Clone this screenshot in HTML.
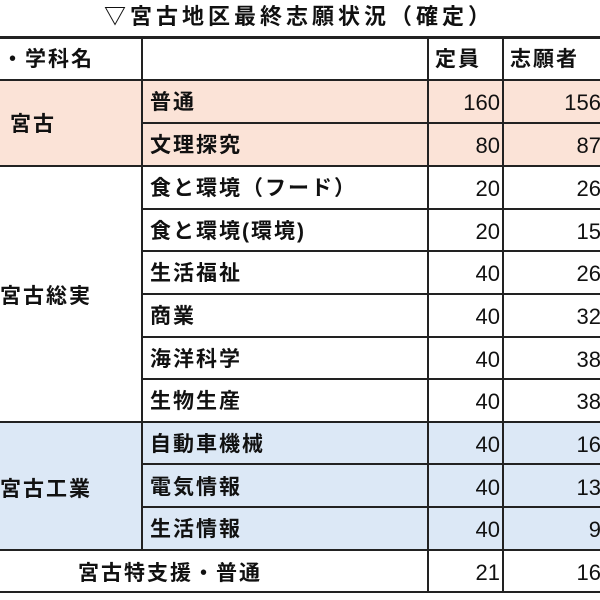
<!DOCTYPE html>
<html><head><meta charset="utf-8"><style>
body{margin:0;width:600px;height:600px;background:#fff;position:relative;overflow:hidden;font-family:"Liberation Sans","Noto Sans CJK JP",sans-serif;}
.t{position:absolute;font-size:21px;letter-spacing:2px;font-weight:bold;color:#111;white-space:nowrap;line-height:1;}
.n{position:absolute;font-size:22px;color:#111;line-height:1;text-align:right;font-family:"Liberation Sans",sans-serif;}
.bg{position:absolute;}
.h{position:absolute;height:2px;background:#222;}
.v{position:absolute;width:2px;background:#222;}
</style></head><body>
<div class="t" style="left:104px;top:6px;font-size:22px;letter-spacing:4px;">▽宮古地区最終志願状況（確定）</div>
<div class="bg" style="left:0;top:80px;width:600px;height:86px;background:#fbe3d7"></div>
<div class="bg" style="left:0;top:422px;width:600px;height:128px;background:#dce8f6"></div>
<div class="h" style="left:0;top:36px;width:600px;height:3px"></div>
<div class="h" style="left:0;top:79px;width:600px"></div>
<div class="h" style="left:142px;top:122px;width:458px"></div>
<div class="h" style="left:0;top:165px;width:600px"></div>
<div class="h" style="left:142px;top:208px;width:458px"></div>
<div class="h" style="left:142px;top:250px;width:458px"></div>
<div class="h" style="left:142px;top:293px;width:458px"></div>
<div class="h" style="left:142px;top:336px;width:458px"></div>
<div class="h" style="left:142px;top:378px;width:458px"></div>
<div class="h" style="left:0;top:421px;width:600px"></div>
<div class="h" style="left:142px;top:463px;width:458px"></div>
<div class="h" style="left:142px;top:506px;width:458px"></div>
<div class="h" style="left:0;top:549px;width:600px"></div>
<div class="h" style="left:0;top:591px;width:600px"></div>
<div class="v" style="left:141px;top:37px;height:513px"></div>
<div class="v" style="left:427px;top:37px;height:556px"></div>
<div class="v" style="left:502px;top:37px;height:556px"></div>
<div class="t" style="left:2px;top:49px">・学科名</div>
<div class="t" style="left:435px;top:49px">定員</div>
<div class="t" style="left:510px;top:49px">志願者</div>
<div class="t" style="left:10px;top:114px">宮古</div>
<div class="t" style="left:0px;top:286px">宮古総実</div>
<div class="t" style="left:0px;top:479px">宮古工業</div>
<div class="t" style="left:78px;top:563px">宮古特支援・普通</div>
<div class="t" style="left:150px;top:92px">普通</div>
<div class="t" style="left:150px;top:135px">文理探究</div>
<div class="t" style="left:150px;top:178px">食と環境（フード）</div>
<div class="t" style="left:150px;top:221px">食と環境(環境)</div>
<div class="t" style="left:150px;top:263px">生活福祉</div>
<div class="t" style="left:150px;top:306px">商業</div>
<div class="t" style="left:150px;top:349px">海洋科学</div>
<div class="t" style="left:150px;top:391px">生物生産</div>
<div class="t" style="left:150px;top:434px">自動車機械</div>
<div class="t" style="left:150px;top:477px">電気情報</div>
<div class="t" style="left:150px;top:519px">生活情報</div>
<div class="n" style="left:430px;width:70px;top:92px">160</div>
<div class="n" style="left:430px;width:70px;top:135px">80</div>
<div class="n" style="left:430px;width:70px;top:178px">20</div>
<div class="n" style="left:430px;width:70px;top:221px">20</div>
<div class="n" style="left:430px;width:70px;top:263px">40</div>
<div class="n" style="left:430px;width:70px;top:306px">40</div>
<div class="n" style="left:430px;width:70px;top:349px">40</div>
<div class="n" style="left:430px;width:70px;top:391px">40</div>
<div class="n" style="left:430px;width:70px;top:434px">40</div>
<div class="n" style="left:430px;width:70px;top:477px">40</div>
<div class="n" style="left:430px;width:70px;top:519px">40</div>
<div class="n" style="left:430px;width:70px;top:562px">21</div>
<div class="n" style="left:505px;width:96px;top:92px">156</div>
<div class="n" style="left:505px;width:96px;top:135px">87</div>
<div class="n" style="left:505px;width:96px;top:178px">26</div>
<div class="n" style="left:505px;width:96px;top:221px">15</div>
<div class="n" style="left:505px;width:96px;top:263px">26</div>
<div class="n" style="left:505px;width:96px;top:306px">32</div>
<div class="n" style="left:505px;width:96px;top:349px">38</div>
<div class="n" style="left:505px;width:96px;top:391px">38</div>
<div class="n" style="left:505px;width:96px;top:434px">16</div>
<div class="n" style="left:505px;width:96px;top:477px">13</div>
<div class="n" style="left:505px;width:96px;top:519px">9</div>
<div class="n" style="left:505px;width:96px;top:562px">16</div>
</body></html>
